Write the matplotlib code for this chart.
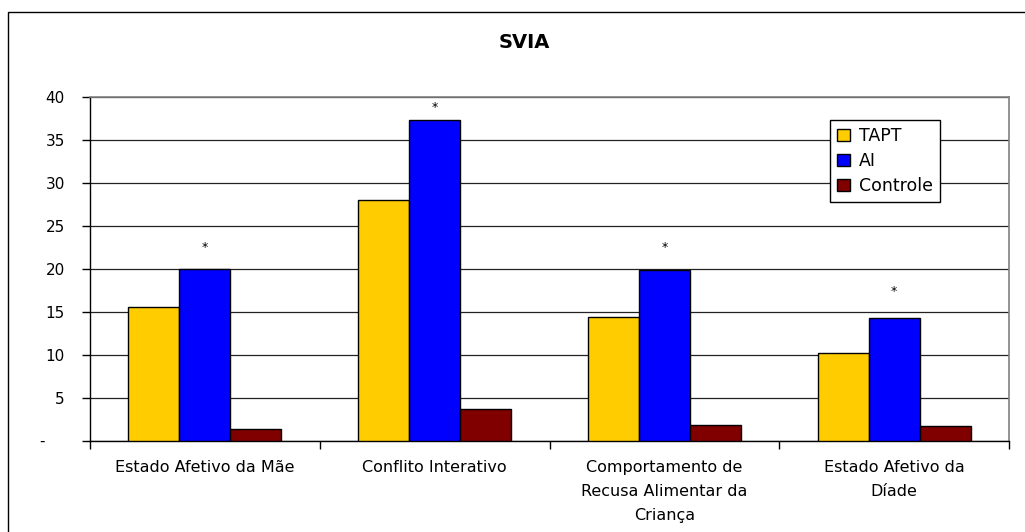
import matplotlib.pyplot as plt
from matplotlib.patches import Rectangle
import numpy as np

categories = ['Estado Afetivo da Mãe', 'Conflito Interativo',
              'Comportamento de\nRecusa Alimentar da\nCriança',
              'Estado Afetivo da\nDíade']
tapt = [15.5, 28.0, 14.4, 10.2]
ai = [19.9, 37.3, 19.8, 14.2]
controle = [1.3, 3.7, 1.8, 1.7]
star_y = [22.5, 38.8, 22.5, 17.3]
yticks = [0, 5, 10, 15, 20, 25, 30, 35, 40]
ytick_labels = ['-    ', '5', '10', '15', '20', '25', '30', '35', '40']

W, H = 1025, 532
fig = plt.figure(figsize=(W / 100, H / 100), dpi=100)
fig.patch.set_facecolor('white')

# outer chart border (runs off the right and bottom edges)
fig.add_artist(Rectangle((8 / W, -0.1), 1.2, 1 - 12 / H + 0.1,
                         transform=fig.transFigure, fill=False,
                         edgecolor='black', linewidth=1.0))

ax = fig.add_axes([90 / W, 1 - 440.5 / H, 919 / W, 343.8 / H])

x = np.arange(len(categories))
w = 1 / 4.5
series = [(tapt, '#FFCC00', 'TAPT'), (ai, '#0000FF', 'AI'),
          (controle, '#800000', 'Controle')]
for k, (vals, col, lab) in enumerate(series):
    ax.bar(x + (k - 1) * w, vals, width=w, color=col, edgecolor='black',
           linewidth=1.0, label=lab, zorder=3)

for xi, yi in zip(x, star_y):
    ax.text(xi, yi, '*', ha='center', va='center', fontsize=9)

ax.set_xlim(-0.5, 3.5)
ax.set_ylim(0, 40)
ax.set_yticks(yticks)
ax.set_yticklabels(ytick_labels, fontsize=11)
ax.grid(axis='y', color='#222222', linewidth=0.9, zorder=0)
ax.set_axisbelow(True)

ax.set_xticks(np.arange(-0.5, 4, 1))
ax.set_xticklabels([])
ax.set_xticks(x, minor=True)
ax.set_xticklabels(categories, minor=True, fontsize=11.5, linespacing=1.75,
                   va='top', ha='center')
ax.tick_params(axis='x', which='major', direction='out', length=6, width=1)
ax.tick_params(axis='x', which='minor', length=0, pad=14)
ax.tick_params(axis='y', direction='out', length=6, width=1, pad=12)

for s in ['left', 'bottom']:
    ax.spines[s].set_color('black')
    ax.spines[s].set_linewidth(1.0)
for s in ['right', 'top']:
    ax.spines[s].set_color('#808080')
    ax.spines[s].set_linewidth(1.2)

fig.text(524 / W, 1 - 42 / H, 'SVIA', ha='center', va='center',
         fontsize=14, fontweight='bold')

leg = ax.legend(loc='upper left', bbox_to_anchor=(0.805, 0.932),
                borderaxespad=0, fontsize=12.5, fancybox=False, framealpha=1,
                edgecolor='black', handlelength=0.75, handleheight=0.65,
                handletextpad=0.55, labelspacing=0.4, borderpad=0.4)
leg.get_frame().set_linewidth(1.0)

fig.savefig('out.png', dpi=100, facecolor='white')
